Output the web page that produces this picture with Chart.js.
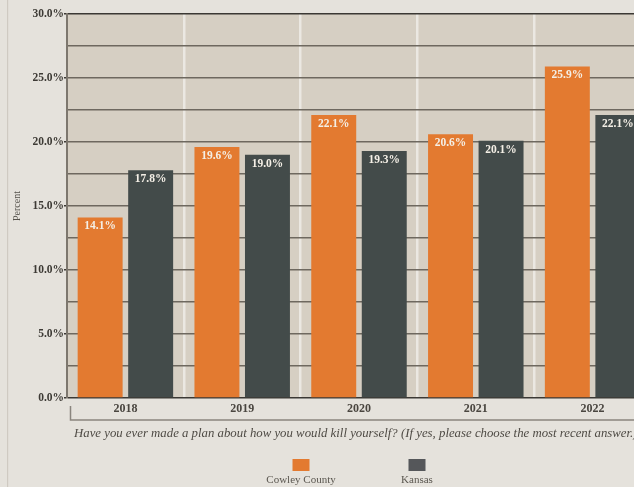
<!DOCTYPE html>
<html>
<head>
<meta charset="utf-8">
<script src="https://cdn.jsdelivr.net/npm/chart.js@4.4.1/dist/chart.umd.min.js"></script>
<style>
  html, body { margin: 0; padding: 0; overflow: hidden; background: #e5e2dc; }
  #wrap { width: 651px; height: 487px; }
</style>
</head>
<body>
<div id="wrap"><canvas id="planChart" width="651" height="487"></canvas></div>
<script>
// survey years and percentages
const years = ['2018', '2019', '2020', '2021', '2022'];
const cowley = [14.1, 19.6, 22.1, 20.6, 25.9];
const kansas = [17.8, 19.0, 19.3, 20.1, 22.1];
const seriesNames = ['Cowley County', 'Kansas'];
const question = 'Have you ever made a plan about how you would kill yourself? (If yes, please choose the most recent answer.)';

const serif = '"Liberation Serif", "DejaVu Serif", serif';
const orange = '#e37a30';
const slate = '#434b4a';
const legendColors = [orange, '#55575a'];

// page background, left panel edge and plot background
const backdrop = {
    id: 'backdrop',
    beforeDraw(chart) {
        const c = chart.ctx, a = chart.chartArea;
        c.save();
        c.fillStyle = '#e5e2dc';
        c.fillRect(0, 0, chart.width, chart.height);
        c.fillStyle = '#cfcac2';
        c.fillRect(7, 0, 1.2, chart.height);
        c.fillStyle = '#d6cfc3';
        c.fillRect(a.left, a.top, a.right - a.left, a.bottom - a.top);
        c.restore();
    }
};

// value labels inside the top of each bar
const barLabels = {
    id: 'barLabels',
    afterDatasetsDraw(chart) {
        const c = chart.ctx;
        c.save();
        c.font = 'bold 11.5px ' + serif;
        c.fillStyle = '#f4efe6';
        c.textAlign = 'center';
        c.textBaseline = 'middle';
        chart.data.datasets.forEach(function (ds, i) {
            chart.getDatasetMeta(i).data.forEach(function (bar, j) {
                c.fillText(ds.data[j].toFixed(1) + '%', bar.x, bar.y + 9);
            });
        });
        c.restore();
    }
};

// bracket under the years, question text and the legend
const footer = {
    id: 'footer',
    afterDraw(chart) {
        const c = chart.ctx, a = chart.chartArea;
        c.save();
        c.strokeStyle = '#8a857e';
        c.lineWidth = 1.5;
        c.beginPath();
        c.moveTo(70.5, 406);
        c.lineTo(70.5, 420);
        c.lineTo(chart.width, 420);
        c.stroke();

        c.font = 'italic 12.8px ' + serif;
        c.fillStyle = '#4e4a44';
        c.textAlign = 'left';
        c.textBaseline = 'middle';
        c.fillText(question, 74, 434);

        const mid = (a.left + a.right) / 2;
        c.font = '11px ' + serif;
        c.textAlign = 'center';
        seriesNames.forEach(function (name, i) {
            const cx = mid + (i === 0 ? -58 : 58);
            c.fillStyle = legendColors[i];
            c.fillRect(cx - 8.5, 459, 17, 12);
            c.fillStyle = '#5b5750';
            c.fillText(name, cx, 480);
        });
        c.restore();
    }
};

new Chart(document.getElementById('planChart'), {
    type: 'bar',
    data: {
        labels: years,
        datasets: [
            { label: seriesNames[0], data: cowley, backgroundColor: orange },
            { label: seriesNames[1], data: kansas, backgroundColor: slate }
        ]
    },
    options: {
        responsive: false,
        animation: false,
        devicePixelRatio: 1,
        categoryPercentage: 0.865,
        barPercentage: 0.89,
        layout: { padding: { top: 14, right: 0, bottom: 0, left: 0 } },
        plugins: {
            legend: { display: false },
            tooltip: { enabled: false }
        },
        scales: {
            x: {
                z: -1,
                afterFit(scale) { scale.height = 89; },
                border: { display: false },
                grid: {
                    offset: true,
                    drawTicks: false,
                    lineWidth: 2.5,
                    color: function (ctx) { return ctx.index === 0 ? 'rgba(0,0,0,0)' : '#ebe8e2'; }
                },
                ticks: {
                    padding: 4,
                    color: '#4a4640',
                    font: { family: serif, size: 12, weight: 'bold' }
                }
            },
            y: {
                min: 0,
                max: 30,
                afterFit(scale) { scale.width = 67; },
                border: { display: true, color: '#7d776e', width: 2 },
                grid: {
                    lineWidth: 1.5,
                    tickLength: 3,
                    color: function (ctx) {
                        const v = ctx.tick ? ctx.tick.value : 0;
                        return (v === 0 || v === 30) ? '#3b3834' : '#6e685f';
                    },
                    tickColor: function (ctx) {
                        const v = ctx.tick ? ctx.tick.value : 0;
                        return v % 5 === 0 ? '#3b3834' : 'rgba(0,0,0,0)';
                    }
                },
                ticks: {
                    stepSize: 2.5,
                    padding: 0,
                    color: '#3d3a35',
                    font: { family: serif, size: 11.5, weight: 'bold' },
                    callback: function (v) { return v % 5 === 0 ? v.toFixed(1) + '%' : ''; }
                },
                title: {
                    display: true,
                    text: 'Percent',
                    color: '#55524c',
                    padding: { top: 11, bottom: 0 },
                    font: { family: serif, size: 10 }
                }
            }
        }
    },
    plugins: [backdrop, barLabels, footer]
});
</script>
</body>
</html>
